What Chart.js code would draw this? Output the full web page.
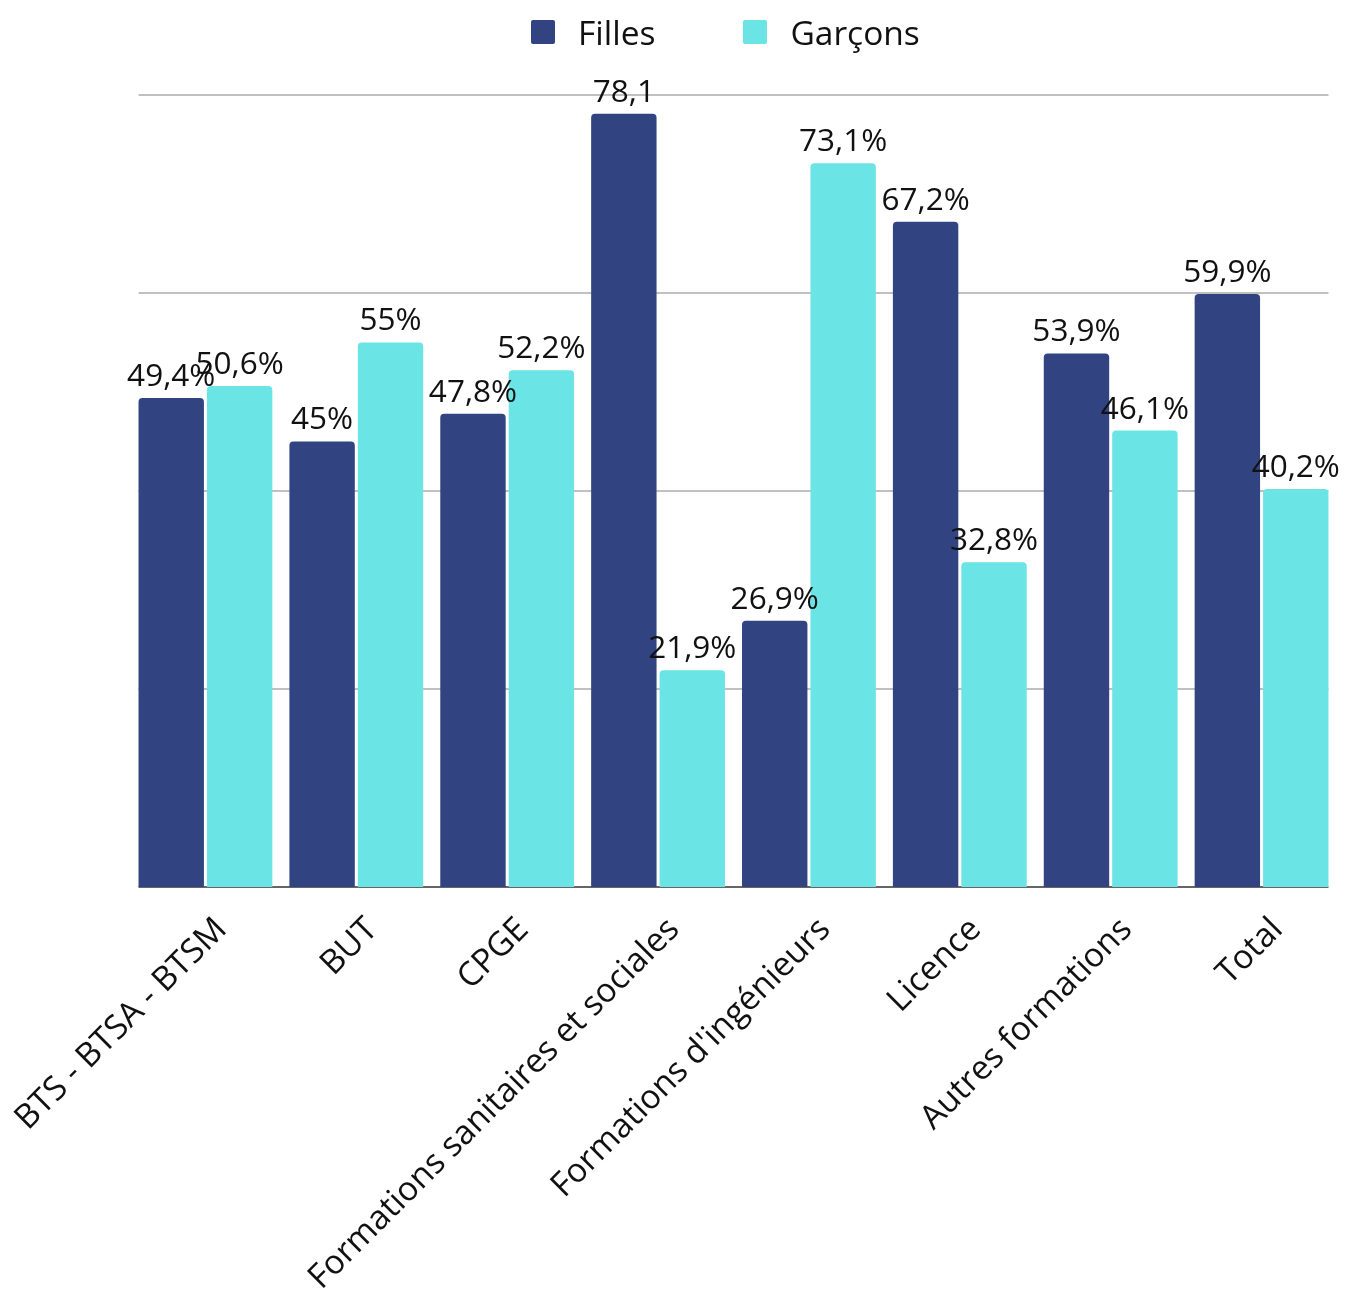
<!DOCTYPE html>
<html>
<head>
<meta charset="utf-8">
<script src="https://cdn.jsdelivr.net/npm/chart.js@4.4.1/dist/chart.umd.min.js"></script>
<style>
  html, body { margin: 0; padding: 0; background: #fff; }
  .wrap { position: relative; width: 1355px; height: 1289px; }
  .legend { position: absolute; top: 9px; left: 531px; display: flex; align-items: center;
            font-family: 'Open Sans', sans-serif; font-size: 33.5px; color: #111; }
  .legend .sw { width: 24px; height: 24px; border-radius: 2px; margin-right: 23px; }
  .legend .item { display: flex; align-items: center; margin-right: 88px; }
</style>
</head>
<body>
<div class="wrap">
  <div class="legend" id="legend"></div>
  <canvas id="chart" width="1355" height="1289"></canvas>
</div>
<script>
const categories = ['BTS - BTSA - BTSM', 'BUT', 'CPGE', 'Formations sanitaires et sociales',
  "Formations d'ingénieurs", 'Licence', 'Autres formations', 'Total'];
const filles = [49.4, 45, 47.8, 78.1, 26.9, 67.2, 53.9, 59.9];
const garcons = [50.6, 55, 52.2, 21.9, 73.1, 32.8, 46.1, 40.2];
// the source prints "78,1" without a % sign
const fillesSansPourcent = [3];
const yTicks = [0, 20, 40, 60, 80];

const navy = '#314481';
const cyan = '#6be4e6';
const font = '"Open Sans", sans-serif';

const fmt = (v, pct) => String(v).replace('.', ',') + (pct ? '%' : '');

// legend in html, the chart.js one can't space items this wide
const series = [{ name: 'Filles', color: navy }, { name: 'Garçons', color: cyan }];
const legendEl = document.getElementById('legend');
series.forEach(s => {
  const item = document.createElement('div');
  item.className = 'item';
  item.innerHTML = '<span class="sw" style="background:' + s.color + '"></span><span>' + s.name + '</span>';
  legendEl.appendChild(item);
});

// gridlines only run from the first bar to the last one
const gridLines = {
  id: 'gridLines',
  beforeDatasetsDraw(chart) {
    const ctx = chart.ctx;
    const y = chart.scales.y;
    const first = chart.getDatasetMeta(0).data[0];
    const lastMeta = chart.getDatasetMeta(chart.data.datasets.length - 1).data;
    const last = lastMeta[lastMeta.length - 1];
    const x0 = first.x - first.width / 2;
    const x1 = last.x + last.width / 2;
    ctx.save();
    y.ticks.forEach(t => {
      const py = Math.round(y.getPixelForValue(t.value));
      ctx.beginPath();
      ctx.lineWidth = 2;
      ctx.strokeStyle = t.value === 0 ? '#666' : '#c0c0c0';
      ctx.moveTo(x0, py);
      ctx.lineTo(x1, py);
      ctx.stroke();
    });
    ctx.restore();
  }
};

const valueLabels = {
  id: 'valueLabels',
  afterDatasetsDraw(chart) {
    const ctx = chart.ctx;
    ctx.save();
    ctx.font = '31.5px ' + font;
    ctx.fillStyle = '#111';
    ctx.textAlign = 'center';
    ctx.textBaseline = 'middle';
    chart.data.datasets.forEach((ds, di) => {
      chart.getDatasetMeta(di).data.forEach((bar, i) => {
        ctx.fillText(ds.texts[i], bar.x, bar.y - 21);
      });
    });
    ctx.restore();
  }
};

new Chart(document.getElementById('chart'), {
  type: 'bar',
  data: {
    labels: categories,
    datasets: [
      {
        label: 'Filles',
        data: filles,
        texts: filles.map((v, i) => fmt(v, !fillesSansPourcent.includes(i))),
        backgroundColor: navy,
        borderRadius: 4,
        categoryPercentage: 0.907,
        barPercentage: 0.956
      },
      {
        label: 'Garçons',
        data: garcons,
        texts: garcons.map(v => fmt(v, true)),
        backgroundColor: cyan,
        borderRadius: 4,
        categoryPercentage: 0.907,
        barPercentage: 0.956
      }
    ]
  },
  options: {
    responsive: false,
    animation: false,
    layout: { padding: { top: 95, left: 130, right: 18, bottom: 0 } },
    plugins: {
      legend: { display: false },
      tooltip: { enabled: false }
    },
    scales: {
      x: {
        grid: { display: false, drawTicks: false },
        border: { display: false },
        ticks: {
          minRotation: 45,
          maxRotation: 45,
          padding: 23,
          labelOffset: 16,
          color: '#111',
          font: { family: font, size: 33.5 }
        },
        afterFit: s => {
          s.height = 402;
          // the long first label must not push the plot to the right
          s.paddingLeft = 0;
          s.paddingRight = 0;
        }
      },
      y: {
        min: yTicks[0],
        max: yTicks[yTicks.length - 1],
        afterBuildTicks: s => { s.ticks = yTicks.map(v => ({ value: v })); },
        ticks: { display: false },
        grid: { display: false, drawTicks: false },
        border: { display: false },
        afterFit: s => { s.width = 0; }
      }
    }
  },
  plugins: [gridLines, valueLabels]
});
</script>
</body>
</html>
